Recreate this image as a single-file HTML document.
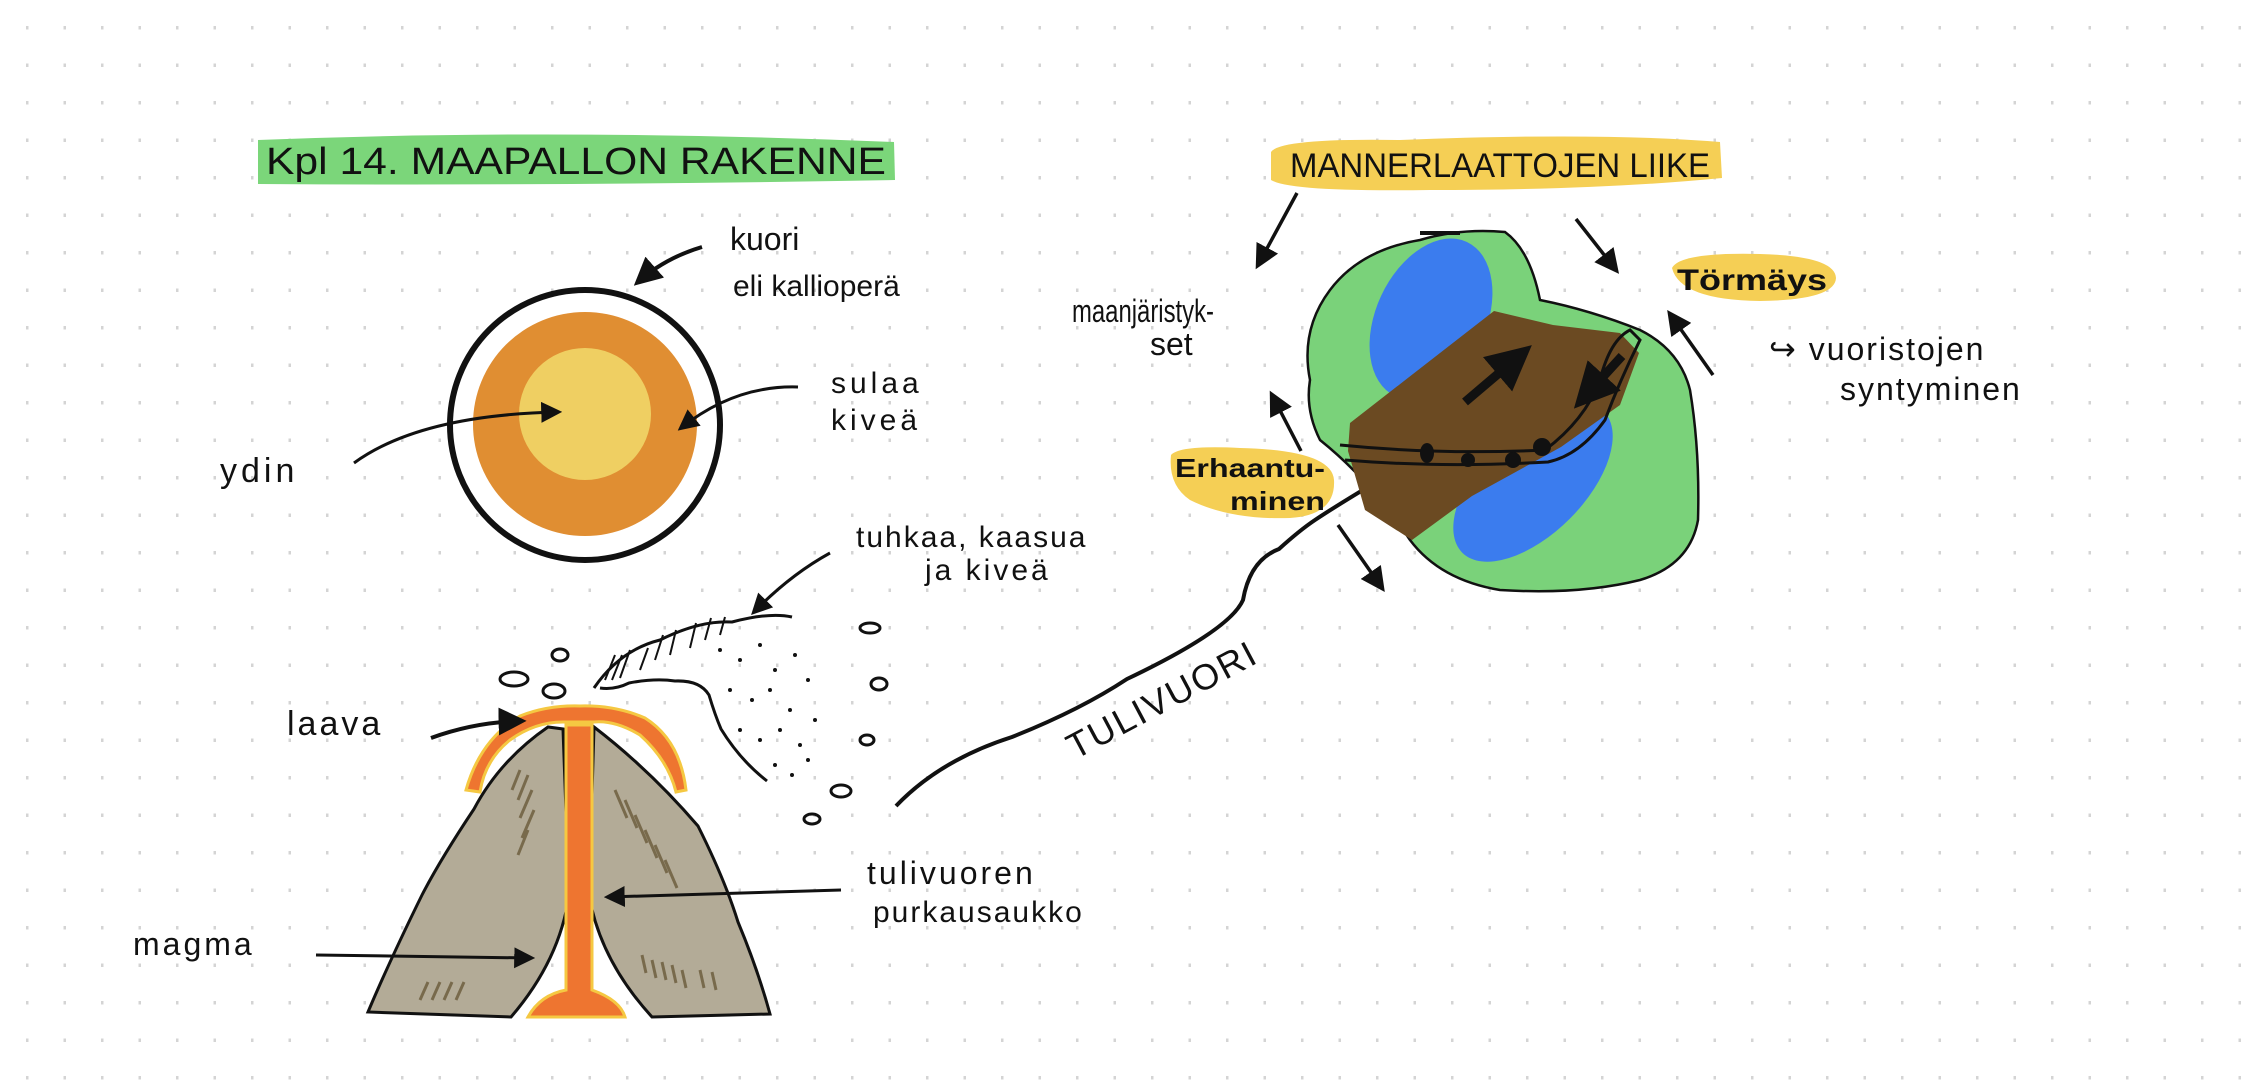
<!DOCTYPE html>
<html><head><meta charset="utf-8"><style>
html,body{margin:0;padding:0;background:#fff;}
svg{display:block;}
text{font-family:"Liberation Sans",sans-serif;fill:#111;}
</style></head><body>
<svg width="2266" height="1089" viewBox="0 0 2266 1089" xmlns="http://www.w3.org/2000/svg">
<defs>
<pattern id="dots" x="26" y="26" width="37.5" height="37.5" patternUnits="userSpaceOnUse">
<rect x="0" y="0" width="2.5" height="3.5" fill="#d4d4d4"/>
</pattern>
<marker id="ah" viewBox="0 0 10 10" refX="8" refY="5" markerWidth="5" markerHeight="5" orient="auto-start-reverse">
<path d="M0,0 L10,5 L0,10 z" fill="#111"/>
</marker>
<marker id="ahs" viewBox="0 0 10 10" refX="8" refY="5" markerWidth="7" markerHeight="7" orient="auto-start-reverse">
<path d="M0,0 L10,5 L0,10 z" fill="#111"/>
</marker>
</defs>
<rect width="2266" height="1089" fill="url(#dots)"/>

<!-- Title -->
<path d="M258,140 Q560,128 894,142 L895,180 Q560,186 258,184 Z" fill="#7bd67a"/>
<text x="266" y="174" font-size="38" textLength="620" lengthAdjust="spacingAndGlyphs">Kpl 14. MAAPALLON RAKENNE</text>

<!-- Earth -->
<circle cx="585" cy="425" r="135" fill="#fff" stroke="#111" stroke-width="6"/>
<circle cx="585" cy="424" r="112" fill="#e08e32"/>
<circle cx="585" cy="414" r="66" fill="#efcf62"/>
<text x="730" y="250" font-size="32">kuori</text>
<text x="733" y="296" font-size="30">eli kalliopera&#776;</text>
<path d="M702,247 Q665,258 638,282" fill="none" stroke="#111" stroke-width="4" marker-end="url(#ahs)"/>
<text x="831" y="393" font-size="30" letter-spacing="4">sulaa</text>
<text x="831" y="430" font-size="30" letter-spacing="4">kiveä</text>
<path d="M798,387 Q735,385 681,428" fill="none" stroke="#111" stroke-width="3" marker-end="url(#ahs)"/>
<text x="220" y="482" font-size="34" letter-spacing="4">ydin</text>
<path d="M354,463 Q420,415 558,412" fill="none" stroke="#111" stroke-width="3" marker-end="url(#ahs)"/>

<!-- Volcano -->
<path d="M466,790 Q480,740 520,716 Q548,705 580,706 Q615,705 645,718 Q680,740 686,790 L676,792 Q668,760 640,735 Q615,720 594,722 L563,722 Q535,722 510,740 Q485,760 480,792 Z" fill="#ee7530" stroke="#f5c842" stroke-width="3"/>
<path d="M548,727 Q500,760 474,809 Q440,860 422,895 Q390,960 368,1012 L511,1017 Q560,960 569,895 L563,729 Z" fill="#b3ab97" stroke="#111" stroke-width="3"/>
<path d="M594,727 Q650,770 698,826 Q725,880 738,922 Q758,970 770,1014 L652,1017 Q600,960 589,895 Z" fill="#b3ab97" stroke="#111" stroke-width="3"/>
<path d="M566,725 L592,725 L592,990 Q620,1000 625,1017 L528,1017 Q540,995 566,990 Z" fill="#ee7530" stroke="#f5c842" stroke-width="3"/>
<g stroke="#6a5a3a" stroke-width="3" opacity="0.8">
<path d="M520,770 l-8,20 M528,775 l-10,25 M532,790 l-12,28 M534,810 l-12,28 M528,830 l-10,25"/>
<path d="M615,790 l12,28 M625,800 l12,28 M635,815 l12,28 M645,830 l12,28 M655,845 l12,28 M665,860 l12,28"/>
<path d="M420,1000 l8,-18 M432,1000 l8,-18 M444,1000 l8,-18 M456,1000 l8,-18"/>
<path d="M642,955 l4,18 M652,960 l4,18 M662,962 l4,18 M672,965 l4,18 M682,970 l4,18 M700,970 l4,18 M712,972 l4,18"/>
</g>
<text x="287" y="735" font-size="34" letter-spacing="3">laava</text>
<path d="M431,738 Q475,722 521,721" fill="none" stroke="#111" stroke-width="4" marker-end="url(#ahs)"/>
<text x="133" y="955" font-size="32" letter-spacing="3">magma</text>
<path d="M316,955 L531,958" fill="none" stroke="#111" stroke-width="3" marker-end="url(#ahs)"/>
<text x="867" y="884" font-size="32" letter-spacing="3">tulivuoren</text>
<text x="873" y="922" font-size="30" letter-spacing="2">purkausaukko</text>
<path d="M841,890 L608,897" fill="none" stroke="#111" stroke-width="3" marker-end="url(#ahs)"/>

<!-- Cloud -->
<path d="M594,688 Q620,650 660,640 Q700,620 732,622 Q770,612 792,617" fill="none" stroke="#111" stroke-width="3"/>
<path d="M600,688 Q615,690 629,683 Q655,678 675,681 Q700,680 709,695 Q715,715 721,729 Q740,760 767,781" fill="none" stroke="#111" stroke-width="3"/>
<g stroke="#111" stroke-width="2">
<path d="M605,680 l10,-25 M612,680 l10,-25 M620,678 l10,-28 M640,670 l8,-22 M655,660 l8,-25 M670,655 l6,-25 M690,648 l6,-25 M705,640 l6,-22 M720,635 l5,-18"/>
</g>
<g fill="#111">
<circle cx="720" cy="650" r="2"/><circle cx="740" cy="660" r="2"/><circle cx="760" cy="645" r="2"/><circle cx="775" cy="670" r="2"/><circle cx="795" cy="655" r="2"/>
<circle cx="730" cy="690" r="2"/><circle cx="752" cy="700" r="2"/><circle cx="770" cy="690" r="2"/><circle cx="790" cy="710" r="2"/><circle cx="808" cy="680" r="2"/>
<circle cx="740" cy="730" r="2"/><circle cx="760" cy="740" r="2"/><circle cx="780" cy="730" r="2"/><circle cx="800" cy="745" r="2"/><circle cx="815" cy="720" r="2"/>
<circle cx="775" cy="765" r="2"/><circle cx="792" cy="775" r="2"/><circle cx="808" cy="760" r="2"/>
</g>
<g fill="none" stroke="#111" stroke-width="3">
<ellipse cx="560" cy="655" rx="8" ry="6"/><ellipse cx="514" cy="679" rx="14" ry="7"/><ellipse cx="554" cy="691" rx="11" ry="7"/>
<ellipse cx="870" cy="628" rx="10" ry="5"/><ellipse cx="879" cy="684" rx="8" ry="6"/><ellipse cx="867" cy="740" rx="7" ry="5"/>
<ellipse cx="841" cy="791" rx="10" ry="6"/><ellipse cx="812" cy="819" rx="8" ry="5"/>
</g>
<text x="856" y="547" font-size="30" letter-spacing="2">tuhkaa, kaasua</text>
<text x="925" y="580" font-size="30" letter-spacing="3">ja kiveä</text>
<path d="M830,553 Q790,575 754,612" fill="none" stroke="#111" stroke-width="3" marker-end="url(#ahs)"/>

<!-- Tulivuori line -->
<path d="M896,806 Q940,760 1012,737 Q1080,710 1127,679 Q1230,630 1243,600 Q1250,560 1279,549 Q1300,530 1315,520 Q1345,500 1410,462" fill="none" stroke="#111" stroke-width="4" marker-end="url(#ahs)"/>
<text x="0" y="0" font-size="36" transform="translate(1075,760) rotate(-28)" letter-spacing="2">TULIVUORI</text>

<!-- Continent -->
<path d="M1310,380 Q1300,330 1330,290 Q1360,250 1420,240 Q1460,228 1505,232 Q1530,250 1540,300 Q1590,310 1640,330 Q1680,350 1690,390 Q1700,450 1698,520 Q1690,565 1640,580 Q1580,595 1500,590 Q1440,580 1410,540 Q1370,480 1320,440 Q1305,410 1310,380 Z" fill="#7ad27a" stroke="#111" stroke-width="2.5"/>
<ellipse cx="1431" cy="319" rx="55" ry="85" fill="#3b7cee" transform="rotate(25 1431 319)"/>
<ellipse cx="1533" cy="482" rx="52" ry="100" fill="#3b7cee" transform="rotate(45 1533 482)"/>
<path d="M1350,423 L1494,311 L1553,325 L1620,333 L1639,353 L1620,405 L1561,447 L1472,496 L1412,540 L1365,510 L1348,451 Z" fill="#6b4a22"/>
<path d="M1340,445 Q1440,455 1545,450 Q1585,420 1600,380 Q1610,340 1630,330 L1640,340 Q1620,380 1605,420 Q1580,455 1548,462 Q1440,468 1345,460" fill="none" stroke="#111" stroke-width="3"/>
<path d="M1465,402 L1525,351" stroke="#111" stroke-width="9" marker-end="url(#ah)"/>
<path d="M1622,356 L1580,402" stroke="#111" stroke-width="9" marker-end="url(#ah)"/>
<g fill="#111"><ellipse cx="1427" cy="453" rx="7" ry="10"/><circle cx="1468" cy="460" r="7"/><circle cx="1513" cy="460" r="8"/><circle cx="1542" cy="447" r="9"/></g>
<rect x="1420" y="231" width="40" height="4" fill="#111"/>

<path d="M1271,152 Q1280,138 1400,140 Q1600,132 1720,142 L1722,178 Q1600,190 1430,190 Q1290,192 1271,180 Z" fill="#f5cf55"/>
<text x="1290" y="177" font-size="34" textLength="420" lengthAdjust="spacingAndGlyphs">MANNERLAATTOJEN LIIKE</text>
<path d="M1672,268 Q1680,252 1760,254 Q1835,256 1836,278 Q1835,300 1760,301 Q1680,300 1672,268 Z" fill="#f5cf55"/>
<text x="1677" y="290" font-size="30" font-weight="bold" textLength="150" lengthAdjust="spacingAndGlyphs">Törmäys</text>
<path d="M1171,455 Q1180,445 1240,448 Q1332,450 1334,480 Q1336,515 1290,518 Q1230,520 1190,500 Q1168,485 1171,455 Z" fill="#f5cf55"/>
<text x="1175" y="477" font-size="26" font-weight="bold" textLength="150" lengthAdjust="spacingAndGlyphs">Erhaantu-</text>
<text x="1230" y="510" font-size="26" font-weight="bold" textLength="95" lengthAdjust="spacingAndGlyphs">minen</text>
<text x="1072" y="322" font-size="32" textLength="142" lengthAdjust="spacingAndGlyphs">maanjäristyk-</text>
<text x="1150" y="355" font-size="32">set</text>
<text x="1769" y="360" font-size="32" letter-spacing="2">↪ vuoristojen</text>
<text x="1840" y="400" font-size="32" letter-spacing="2">syntyminen</text>

<path d="M1297,193 L1258,265" stroke="#111" stroke-width="3.5" marker-end="url(#ahs)"/>
<path d="M1576,219 L1616,270" stroke="#111" stroke-width="3.5" marker-end="url(#ahs)"/>
<path d="M1713,375 L1670,314" stroke="#111" stroke-width="3.5" marker-end="url(#ahs)"/>
<path d="M1301,451 L1272,395" stroke="#111" stroke-width="3.5" marker-end="url(#ahs)"/>
<path d="M1338,525 L1382,588" stroke="#111" stroke-width="3.5" marker-end="url(#ahs)"/>
</svg>
</body></html>
